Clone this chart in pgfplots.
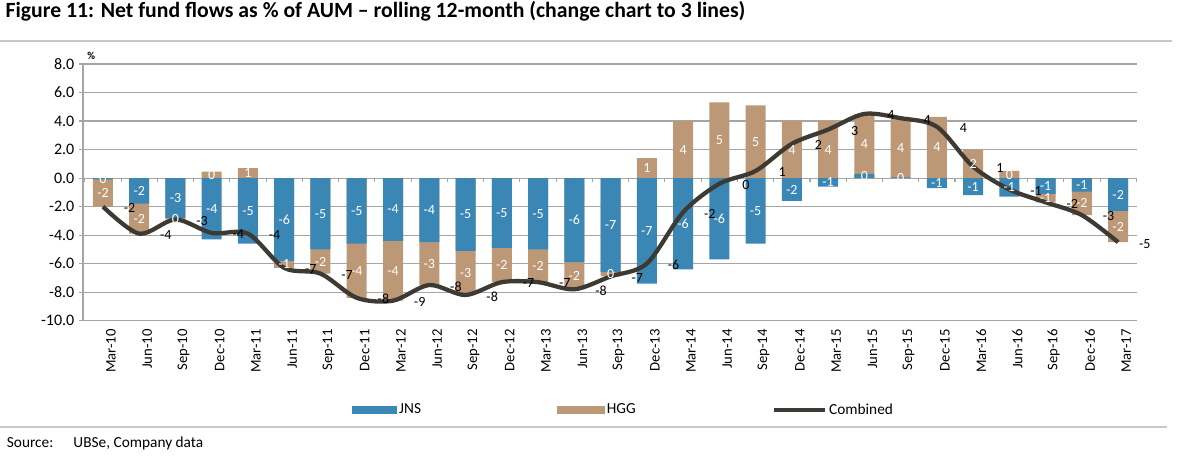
\documentclass[border=0pt]{standalone}
\usepackage{fontspec}
\setmainfont{Carlito}
\usepackage{pgfplots}
\pgfplotsset{compat=1.18}
\usepackage{pgfplotstable}
\definecolor{jns}{RGB}{58,135,181}
\definecolor{hgg}{RGB}{188,152,118}
\definecolor{comb}{RGB}{60,58,50}
\definecolor{gridc}{RGB}{165,165,165}
\definecolor{rulec}{RGB}{200,200,200}

\pgfplotstableread{
i jns hgg comb jl hl cl
0 -0.1 -1.9 -2.0 0 -2 -2
1 -1.8 -2.1 -3.9 -2 -2 -4
2 -2.8 -0.1 -2.9 -3 0 -3
3 -4.3 0.45 -3.85 -4 0 -4
4 -4.6 0.7 -3.9 -5 1 -4
5 -5.8 -0.5 -6.3 -6 -1 -7
6 -5.0 -1.7 -6.7 -5 -2 -7
7 -4.6 -3.8 -8.4 -5 -4 -8
8 -4.4 -4.2 -8.6 -4 -4 -9
9 -4.5 -3.0 -7.5 -4 -3 -8
10 -5.1 -3.1 -8.2 -5 -3 -8
11 -4.9 -2.4 -7.3 -5 -2 -7
12 -5.0 -2.3 -7.3 -5 -2 -7
13 -5.9 -1.9 -7.8 -6 -2 -8
14 -6.6 -0.3 -6.9 -7 0 -7
15 -7.4 1.4 -6.0 -7 1 -6
16 -6.4 4.0 -2.4 -6 4 -2
17 -5.7 5.3 -0.4 -6 5 0
18 -4.6 5.1 0.5 -5 5 1
19 -1.6 4.0 2.4 -2 4 2
20 -0.6 4.0 3.4 -1 4 3
21 0.3 4.2 4.5 0 4 4
22 0.05 4.1 4.2 0 4 4
23 -0.7 4.3 3.6 -1 4 4
24 -1.2 2.0 0.8 -1 2 1
25 -1.3 0.5 -0.8 -1 0 -1
26 -1.1 -0.6 -1.7 -1 -1 -2
27 -0.95 -1.65 -2.6 -1 -2 -3
28 -2.3 -2.2 -4.5 -2 -2 -5
}\data

\begin{document}
\begin{tikzpicture}
\path[use as bounding box] (0,0) rectangle (885pt,345pt);
\node[anchor=base west, inner sep=0pt, font=\bfseries\fontsize{16.3}{19}\selectfont] at (4pt,331.5pt)
  {Figure 11: Net fund flows as \% of AUM – rolling 12-month (change chart to 3 lines)};
\draw[rulec, line width=1.5pt] (0,314pt) -- (879pt,314pt);
\draw[rulec, line width=1.5pt] (0,25pt) -- (875pt,25pt);
\node[anchor=base west, inner sep=0pt, font=\fontsize{11.5}{13}\selectfont] at (5pt,9.5pt)
  {Source:\hspace{15pt}UBSe, Company data};

\begin{axis}[
  at={(62.25pt,104.5pt)}, anchor=south west,
  scale only axis, width=790.5pt, height=192.5pt,
  xmin=-0.55, xmax=28.52, ymin=-10, ymax=8,
  clip=false,
  /pgf/number format/assume math mode=true,
  ytick={-10,-8,...,8},
  yticklabel style={/pgf/number format/fixed, /pgf/number format/fixed zerofill, /pgf/number format/precision=1, font=\fontsize{12}{13}\selectfont},
  xtick={0,...,28},
  xticklabels={Mar-10,Jun-10,Sep-10,Dec-10,Mar-11,Jun-11,Sep-11,Dec-11,Mar-12,Jun-12,Sep-12,Dec-12,Mar-13,Jun-13,Sep-13,Dec-13,Mar-14,Jun-14,Sep-14,Dec-14,Mar-15,Jun-15,Sep-15,Dec-15,Mar-16,Jun-16,Sep-16,Dec-16,Mar-17},
  xticklabel style={rotate=90, anchor=east, yshift=-6pt, font=\fontsize{11}{12}\selectfont},
  xtick style={draw=none},
  ytick style={gridc, line width=0.8pt},
  tick align=outside, major tick length=3pt,
  axis x line*=bottom, axis y line*=left,
  axis line style={gridc, line width=0.8pt},
  ymajorgrids, grid style={gridc, line width=0.8pt},
  legend columns=3,
  legend cell align=left,
  legend style={at={(0.255,-0.348)}, anchor=west, draw=none, fill=none, inner sep=0pt,
    font=\fontsize{11.5}{12}\selectfont,
    /tikz/every even column/.append style={column sep=100pt}},
]
\addlegendimage{legend image code/.code={\fill[jns] (0pt,-2.6pt) rectangle (33pt,2.6pt);}}
\addlegendentry{JNS}
\addlegendimage{legend image code/.code={\fill[hgg] (0pt,-2.6pt) rectangle (35pt,2.6pt);}}
\addlegendentry{HGG}
\addlegendimage{legend image code/.code={\draw[comb, line width=3pt] (0pt,0pt) -- (38pt,0pt);}}
\addlegendentry{Combined}

\pgfplotsinvokeforeach{-0.5,0.5,...,28.5}{
  \draw[gridc, line width=0.8pt] (axis cs:#1,0) -- ([yshift=-3pt]axis cs:#1,0);
}

\addplot[ybar, bar width=15pt, bar shift=0pt, fill=hgg, draw=none, forget plot]
  table[x=i, y expr={((\thisrow{jns})*(\thisrow{hgg})>0) ? ((\thisrow{jns})+(\thisrow{hgg})) : (\thisrow{hgg})}] {\data};
\addplot[ybar, bar width=15pt, bar shift=0pt, fill=jns, draw=none, forget plot]
  table[x=i, y=jns] {\data};

\addplot[draw=none, forget plot, nodes near coords, point meta=explicit,
  every node near coord/.append style={text=white, anchor=center, font=\fontsize{10.5}{11}\selectfont}]
  table[x=i, y expr={(\thisrow{jns})/2}, meta=jl] {\data};
\addplot[draw=none, forget plot, nodes near coords, point meta=explicit,
  every node near coord/.append style={text=white, anchor=center, font=\fontsize{10.5}{11}\selectfont}]
  table[x=i, y expr={((\thisrow{jns})*(\thisrow{hgg})>0) ? ((\thisrow{jns})+(\thisrow{hgg})/2) : ((\thisrow{hgg})/2)}, meta=hl] {\data};

\addplot[comb, line width=3.2pt, smooth, forget plot] table[x=i, y=comb] {\data};

\addplot[draw=none, forget plot, nodes near coords, point meta=explicit,
  every node near coord/.append style={text=black, anchor=center, xshift=20pt, yshift=-1pt, font=\fontsize{10.5}{11}\selectfont}]
  table[x=i, y=comb, meta=cl] {\data};

\node[anchor=south west, inner sep=0pt, font=\bfseries\fontsize{8}{9}\selectfont] at (rel axis cs:0.004,1.015) {\%};
\end{axis}
\end{tikzpicture}
\end{document}
